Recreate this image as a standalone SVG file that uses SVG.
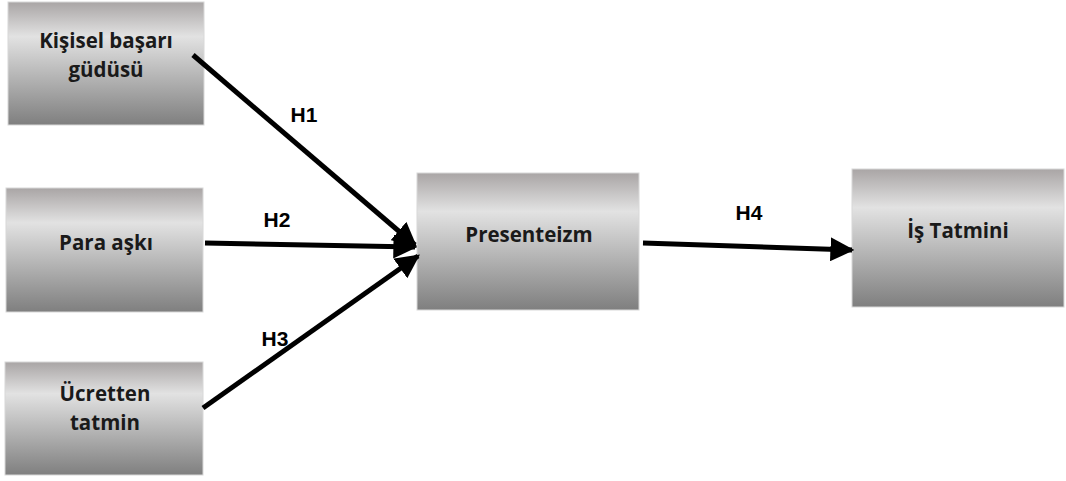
<svg xmlns="http://www.w3.org/2000/svg" width="1066" height="481" viewBox="0 0 1066 481">
<defs>
<linearGradient id="g" x1="0" y1="0" x2="0" y2="1">
<stop offset="0" stop-color="#a9a5a5"/>
<stop offset="0.28" stop-color="#e2e2e2"/>
<stop offset="1" stop-color="#7f7f7f"/>
</linearGradient>
<marker id="ah" viewBox="0 0 10 10" refX="9" refY="5" markerWidth="4.8" markerHeight="4.8" orient="auto" markerUnits="strokeWidth">
<path d="M0,0 L10,5 L0,10 z" fill="#000"/>
</marker>
<style>
.box{fill:url(#g);stroke:#d8d8d8;stroke-width:1}
.t{font-family:"Open Sans","Liberation Sans",sans-serif;font-weight:bold;font-size:20.5px;fill:#1a1a1a;text-anchor:middle}
.l{font-family:"Liberation Sans",Arial,sans-serif;font-weight:bold;font-size:21px;fill:#000;text-anchor:middle}
.c{stroke:#000;stroke-width:5;fill:none;marker-end:url(#ah)}
</style>
</defs>
<g id="n1"><rect class="box" x="8" y="2" width="196" height="123"/><text class="t" x="106" y="48">Kişisel başarı</text><text class="t" x="106" y="77">güdüsü</text></g>
<g id="n2"><rect class="box" x="6" y="188" width="197" height="124"/><text class="t" x="106" y="250">Para aşkı</text></g>
<g id="n3"><rect class="box" x="5" y="362" width="198" height="113"/><text class="t" x="105" y="401">Ücretten</text><text class="t" x="105" y="430">tatmin</text></g>
<g id="n4"><rect class="box" x="417" y="173" width="222" height="137"/><text class="t" x="529" y="242">Presenteizm</text></g>
<g id="n5"><rect class="box" x="852" y="169" width="212" height="138"/><text class="t" x="958" y="238">İş Tatmini</text></g>
<g id="connectors">
<line class="c" x1="193" y1="55" x2="415" y2="245"/>
<line class="c" x1="205" y1="243" x2="415" y2="247"/>
<line class="c" x1="203" y1="408" x2="418" y2="256"/>
<line class="c" x1="643" y1="243" x2="852" y2="250"/>
<text class="l" x="304" y="122">H1</text>
<text class="l" x="277" y="227">H2</text>
<text class="l" x="275" y="346">H3</text>
<text class="l" x="749" y="220">H4</text>
</g>
</svg>
